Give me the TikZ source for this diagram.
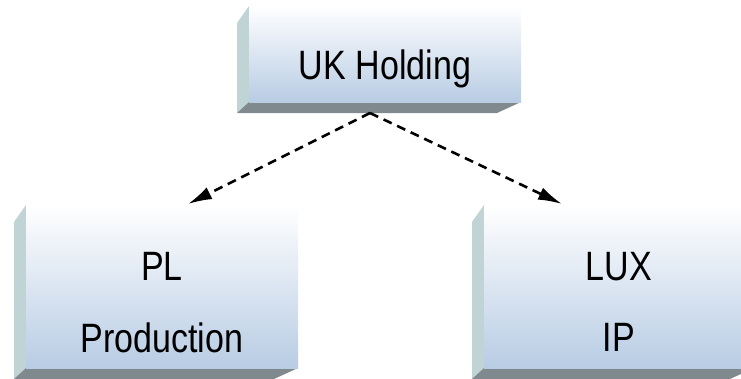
\documentclass[tikz,border=0pt]{standalone}
\usepackage{fontspec}
\setmainfont{Liberation Sans}[FakeStretch=0.83]
\usetikzlibrary{arrows.meta}
\definecolor{facebot}{RGB}{184,204,228}
\definecolor{sidepanel}{RGB}{192,212,214}
\definecolor{basepanel}{RGB}{128,138,142}
% Bevelled box: #1 name, #2 left, #3 top, #4 right, #5 bottom of the front face
\newcommand\bevelbox[5]{%
  \fill[sidepanel] (#2,#3) -- (#2-12,#3+17) -- (#2-12,#5+11) -- (#2,#5) -- cycle;
  \fill[basepanel] (#2,#5) -- (#4,#5) -- (#4-24,#5+11) -- (#2-12,#5+11) -- cycle;
  \node[face, minimum width=#4-#2, minimum height=#5-#3, anchor=north west] (#1) at (#2,#3) {};
}
\begin{document}
\begin{tikzpicture}[x=1pt,y=-1pt,
  face/.style={rectangle, inner sep=0pt, outer sep=0pt, top color=white, bottom color=facebot},
  lbl/.style={font=\fontsize{41}{41}\selectfont, inner sep=0pt, anchor=base},
  link/.style={dashed, dash pattern=on 9pt off 6pt, line width=2.6pt,
               -{Latex[length=24pt,width=13pt]}}]
\useasboundingbox (0,0) rectangle (741,378);
\bevelbox{uk}{249}{6}{521}{102}
\bevelbox{pl}{26}{205}{298}{368}
\bevelbox{lux}{484}{205}{754}{368}
\useasboundingbox (0,0) rectangle (741,378);
% labels
\node[lbl] (ukt) at (385,79) {UK Holding};
\node[lbl] (plt) at (162,280) {PL};
\node[lbl] (plb) at (162,352) {Production};
\node[lbl] (luxt) at (619,280) {LUX};
\node[lbl] (luxb) at (619,351) {IP};
% connector ends
\coordinate (src) at (370,113);
\coordinate (plin) at (188,204);
\coordinate (luxin) at (562,204);
\draw[link] (src) -- (plin);
\draw[link] (src) -- (luxin);
\end{tikzpicture}
\end{document}
